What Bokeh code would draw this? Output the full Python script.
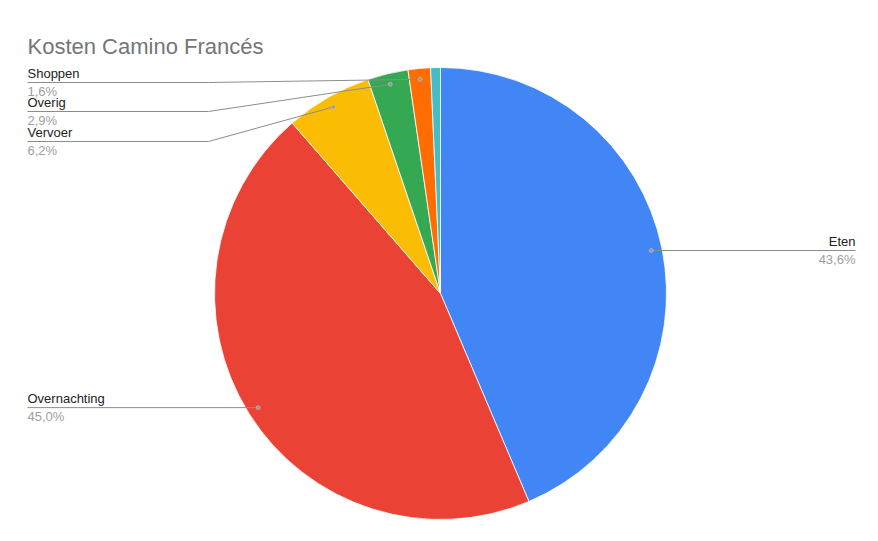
import math
from bokeh.plotting import figure
from bokeh.models import Range1d
from bokeh.embed import file_html
from bokeh.resources import INLINE
from bokeh.core.properties import value

# ---------------- data ----------------
title = "Kosten Camino Francés"
categories = ["Eten", "Overnachting", "Vervoer", "Overig", "Shoppen", "Overige"]
percentages = [43.6, 45.0, 6.2, 2.9, 1.6, 0.7]
show_label = [True, True, True, True, True, False]
colors = ["#4285F4", "#EA4335", "#FBBC04", "#34A853", "#FF6D01", "#46BDC6"]

# ---------------- layout (page pixels) ----------------
PAGE_H = 541
W, H = 862, 525
CX, CY, R = 440, 293, 226          # pie centre / radius in page pixels
DOT_R = 0.952 * R
LEFT_X = 27
RIGHT_X = 855
ELBOW_X = 208
label_side = ["right", "left", "left", "left", "left", None]
label_line_y = [None, None, 141, 111, 82, None]

FONT = value("Liberation Sans")


def Y(py):
    return PAGE_H - py


p = figure(width=W, height=H, output_backend="svg", toolbar_location=None,
           x_axis_type=None, y_axis_type=None, min_border=0,
           x_range=Range1d(0, W), y_range=Range1d(PAGE_H - H, PAGE_H))
p.outline_line_color = None
p.grid.visible = False
p.background_fill_color = "white"
p.border_fill_color = "white"

total = sum(percentages)
starts, ends, mids = [], [], []
cum = 0.0
for v in percentages:
    a0 = math.pi / 2 - 2 * math.pi * cum / total
    cum += v
    a1 = math.pi / 2 - 2 * math.pi * cum / total
    starts.append(a0)
    ends.append(a1)
    mids.append((a0 + a1) / 2)

p.wedge(x=[CX] * len(percentages), y=[Y(CY)] * len(percentages), radius=R,
        radius_units="data", start_angle=starts, end_angle=ends, direction="clock",
        fill_color=colors, line_color="white", line_width=0.8)

# title
p.text(x=[LEFT_X], y=[Y(46)], text=[title], text_font=FONT, text_font_size="22px",
       text_color="#757575", text_baseline="alphabetic", text_align="left")

# labels with leader lines
for i, cat in enumerate(categories):
    if not show_label[i]:
        continue
    dx = CX + DOT_R * math.cos(mids[i])
    dy = Y(CY) + DOT_R * math.sin(mids[i])
    pct = f"{percentages[i]:.1f}".replace(".", ",") + "%"
    side = label_side[i]
    ly = dy if label_line_y[i] is None else Y(label_line_y[i])
    if side == "right":
        xs = [dx, RIGHT_X]
        ys = [dy, dy]
        tx, align = RIGHT_X, "right"
    else:
        if label_line_y[i] is None:
            xs = [dx, LEFT_X]
            ys = [dy, dy]
        else:
            xs = [dx, ELBOW_X, LEFT_X]
            ys = [dy, ly, ly]
        tx, align = LEFT_X, "left"
    p.line(x=xs, y=ys, line_color="#8c8c8c", line_width=1)
    p.scatter(x=[dx], y=[dy], size=4, fill_color="#9a9a9a", line_color="#c8c8c8",
              line_width=0.5)
    p.text(x=[tx], y=[ly + 1.5], text=[cat], text_font=FONT, text_font_size="13px",
           text_color="#222222", text_baseline="bottom", text_align=align)
    p.text(x=[tx], y=[ly - 1.5], text=[pct], text_font=FONT, text_font_size="13px",
           text_color="#9e9e9e", text_baseline="top", text_align=align)

open("out.html", "w").write(file_html(p, INLINE))
